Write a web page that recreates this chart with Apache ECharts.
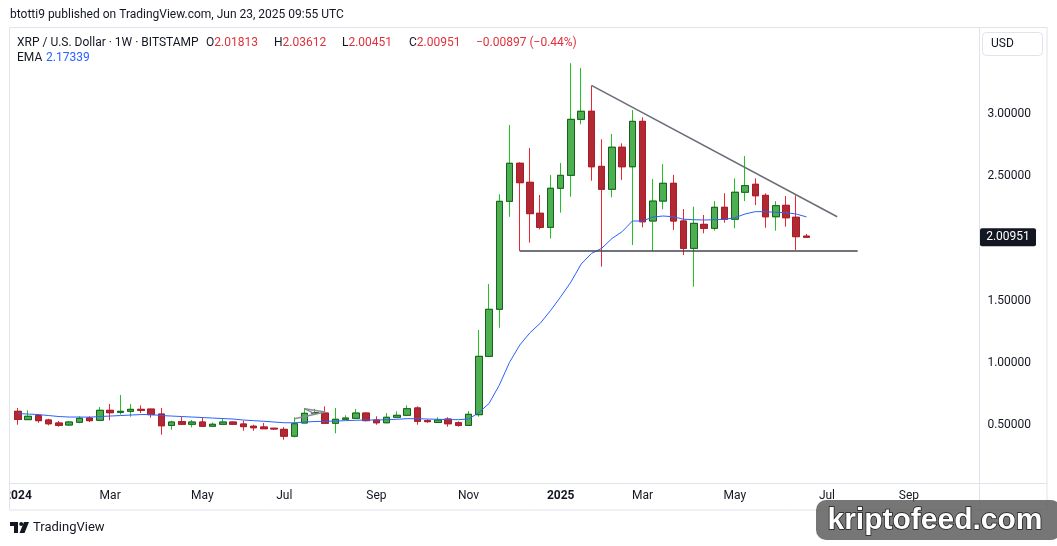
<!DOCTYPE html>
<html>
<head>
<meta charset="utf-8">
<script src="https://cdn.jsdelivr.net/npm/echarts@6/dist/echarts.min.js"></script>
<style>
  html, body { margin: 0; padding: 0; background: #ffffff; }
  #chart { width: 1057px; height: 546px; }
</style>
</head>
<body>
<div id="chart"></div>
<script>
// weekly bars, XRP/USD Bitstamp, from the week of 2024-01-01
const weeks = []
for (let i = 0; i < 94; i++) {
  weeks.push(new Date(Date.UTC(2024, 0, 1 + 7 * i)).toISOString().slice(0, 10))
}

const open = [
  0.610, 0.543, 0.575, 0.540, 0.516, 0.500, 0.522, 0.556, 0.538, 0.618,
  0.602, 0.610, 0.626, 0.628, 0.588, 0.497, 0.527, 0.506, 0.524, 0.490,
  0.506, 0.524, 0.508, 0.490, 0.484, 0.474, 0.465, 0.410, 0.516, 0.594,
  0.596, 0.514, 0.546, 0.554, 0.596, 0.540, 0.518, 0.562, 0.578, 0.637,
  0.535, 0.520, 0.548, 0.518, 0.497, 0.583, 1.052, 1.430, 2.298, 2.604,
  2.451, 2.202, 2.089, 2.403, 2.507, 2.957, 3.022, 2.579, 2.395, 2.733,
  2.576, 2.941, 2.140, 2.300, 2.443, 2.140, 1.920, 2.113, 2.081, 2.250,
  2.154, 2.371, 2.435, 2.346, 2.174, 2.266, 2.170, 2.01813
]
const high = [
  0.637, 0.618, 0.588, 0.550, 0.532, 0.532, 0.570, 0.570, 0.645, 0.669,
  0.741, 0.669, 0.658, 0.630, 0.637, 0.535, 0.564, 0.540, 0.562, 0.520,
  0.556, 0.528, 0.535, 0.502, 0.516, 0.474, 0.484, 0.562, 0.637, 0.630,
  0.650, 0.637, 0.578, 0.629, 0.600, 0.570, 0.596, 0.610, 0.658, 0.650,
  0.546, 0.562, 0.562, 0.530, 0.612, 1.264, 1.633, 2.355, 2.912, 2.612,
  2.727, 2.349, 2.510, 2.606, 3.408, 3.370, 3.225, 2.797, 2.839, 2.764,
  3.032, 2.973, 2.477, 2.597, 2.510, 2.236, 2.255, 2.188, 2.300, 2.363,
  2.483, 2.662, 2.483, 2.362, 2.300, 2.341, 2.346, 2.03612
]
const low = [
  0.502, 0.540, 0.518, 0.497, 0.486, 0.494, 0.514, 0.524, 0.530, 0.538,
  0.583, 0.567, 0.596, 0.559, 0.422, 0.462, 0.506, 0.481, 0.490, 0.487,
  0.504, 0.500, 0.454, 0.454, 0.470, 0.460, 0.382, 0.400, 0.516, 0.585,
  0.514, 0.433, 0.546, 0.550, 0.530, 0.502, 0.515, 0.555, 0.572, 0.502,
  0.518, 0.520, 0.486, 0.486, 0.494, 0.567, 1.050, 1.282, 2.174, 1.899,
  1.966, 2.073, 1.998, 2.207, 2.335, 2.917, 2.464, 1.773, 2.330, 2.470,
  1.947, 2.089, 1.899, 2.234, 2.068, 1.866, 1.612, 2.041, 2.062, 2.126,
  2.081, 2.300, 2.268, 2.086, 2.062, 2.094, 1.907, 2.00451
]
const close = [
  0.545, 0.570, 0.535, 0.510, 0.497, 0.524, 0.554, 0.535, 0.618, 0.599,
  0.610, 0.626, 0.618, 0.583, 0.494, 0.524, 0.506, 0.524, 0.490, 0.506,
  0.524, 0.506, 0.487, 0.478, 0.470, 0.468, 0.410, 0.510, 0.594, 0.600,
  0.514, 0.546, 0.556, 0.596, 0.535, 0.518, 0.562, 0.578, 0.631, 0.530,
  0.527, 0.540, 0.510, 0.497, 0.586, 1.052, 1.430, 2.298, 2.604, 2.448,
  2.199, 2.089, 2.403, 2.507, 2.957, 3.022, 2.576, 2.395, 2.733, 2.576,
  2.941, 2.134, 2.300, 2.443, 2.140, 1.920, 2.121, 2.081, 2.250, 2.154,
  2.371, 2.424, 2.343, 2.174, 2.263, 2.166, 2.014, 2.00951
]
const ema = [
  0.592, 0.588, 0.584, 0.576, 0.568, 0.564, 0.564, 0.563, 0.568, 0.572,
  0.576, 0.580, 0.584, 0.584, 0.576, 0.572, 0.568, 0.564, 0.560, 0.556,
  0.552, 0.548, 0.540, 0.535, 0.530, 0.524, 0.518, 0.518, 0.524, 0.528,
  0.530, 0.532, 0.535, 0.538, 0.540, 0.540, 0.543, 0.546, 0.551, 0.551,
  0.548, 0.546, 0.543, 0.543, 0.548, 0.600, 0.673, 0.820, 1.004, 1.143,
  1.242, 1.318, 1.419, 1.531, 1.650, 1.794, 1.879, 1.920, 1.999, 2.054,
  2.140, 2.140, 2.172, 2.180, 2.174, 2.154, 2.150, 2.148, 2.150, 2.154,
  2.166, 2.196, 2.215, 2.215, 2.210, 2.207, 2.196, 2.173
]

// drawn lines: [bar index, price]
const resistance = [[56, 3.23], [80, 2.174]]
const support = [[49, 1.899], [82, 1.899]]
const sketch = [
  [[27, 0.551], [30, 0.605]],
  [[28, 0.630], [30, 0.605]],
  [[28, 0.630], [29, 0.590]]
]

const tickIndex = [0, 9, 18, 26, 35, 44, 53, 61, 70, 79, 87]
const tickText = ['2024', 'Mar', 'May', 'Jul', 'Sep', 'Nov', '2025', 'Mar', 'May', 'Jul', 'Sep']
const priceTicks = [0.5, 1, 1.5, 2.5, 3]

const FONT = 'Roboto, "Noto Sans", sans-serif'
const TXT = '#131722'
const DOWN_TXT = '#e0313c'

const chart = echarts.init(document.getElementById('chart'))

const seg = (pts, color) => pts.map(p => ({ coord: p, lineStyle: { color } }))

chart.setOption({
  animation: false,
  backgroundColor: '#ffffff',
  textStyle: { fontFamily: FONT },
  grid: { left: 12.88, top: 27, width: 962.56, height: 456 },
  xAxis: {
    type: 'category',
    data: weeks,
    boundaryGap: true,
    axisLine: { show: false },
    axisTick: { show: false },
    splitLine: { show: false },
    axisLabel: {
      interval: (idx) => tickIndex.includes(idx),
      formatter: (val, idx) => {
        const t = tickText[tickIndex.indexOf(idx)] || ''
        return /^\d{4}$/.test(t) ? `{y|${t}}` : t
      },
      color: TXT,
      fontSize: 12,
      margin: 7,
      rich: { y: { fontSize: 12, fontWeight: 'bold', color: TXT } },
    },
  },
  yAxis: {
    type: 'value',
    position: 'right',
    min: 0.0338,
    max: 3.6994,
    splitLine: { show: false },
    axisLine: { show: false },
    axisTick: { show: false },
    axisLabel: {
      customValues: priceTicks,
      formatter: (v) => v.toFixed(5),
      color: TXT,
      fontSize: 12,
      margin: 12,
    },
  },
  series: [
    {
      name: 'wicks',
      type: 'candlestick',
      barWidth: 7,
      data: open.map((o, i) => [o, close[i], low[i], high[i]]),
      itemStyle: {
        color: '#1fc21f', color0: '#ee2530',
        borderColor: '#1fc21f', borderColor0: '#ee2530', borderWidth: 1,
      },
      markLine: {
        silent: true,
        symbol: ['none', 'none'],
        label: { show: false },
        lineStyle: { type: 'solid', width: 1.5 },
        data: [
          seg(resistance, '#6a6d78'),
          seg(support, '#434651'),
          ...sketch.map(s => seg(s, '#8a8d96')),
        ],
      },
    },
    {
      name: 'bodies',
      type: 'candlestick',
      barWidth: 7,
      data: open.map((o, i) => [o, close[i], Math.min(o, close[i]), Math.max(o, close[i])]),
      itemStyle: {
        color: '#4caf50', color0: '#b22833',
        borderColor: '#1b5e20', borderColor0: '#a3202b', borderWidth: 1,
      },
    },
    {
      name: 'EMA',
      type: 'line',
      data: ema,
      showSymbol: false,
      lineStyle: { color: '#2962ff', width: 1 },
      z: 3,
    },
  ],
})

const lastY = chart.convertToPixel({ yAxisIndex: 0 }, close[close.length - 1])

chart.setOption({
  graphic: [
    // panel frame
    { type: 'rect', z: 50, silent: true, shape: { x: 9.5, y: 27.5, width: 1037.5, height: 482.5 },
      style: { fill: 'none', stroke: '#e0e3eb', lineWidth: 1 } },
    { type: 'line', z: 50, silent: true, shape: { x1: 9.5, y1: 483.5, x2: 1047, y2: 483.5 },
      style: { stroke: '#e0e3eb', lineWidth: 1 } },
    { type: 'line', z: 50, silent: true, shape: { x1: 979.5, y1: 27.5, x2: 979.5, y2: 510 },
      style: { stroke: '#e0e3eb', lineWidth: 1 } },
    // clip the year label at the left edge
    { type: 'rect', z: 60, silent: true, shape: { x: 0, y: 485, width: 9, height: 24 },
      style: { fill: '#ffffff' } },

    // header
    { type: 'text', x: 10, y: 15, style: { text: 'btotti9 published on TradingView.com, Jun 23, 2025 09:55 UTC',
      font: `12px ${FONT}`, fill: TXT, verticalAlign: 'middle' } },
    { type: 'text', x: 17, y: 42.5, style: { text: 'XRP / U.S. Dollar · 1W · BITSTAMP',
      font: `12px ${FONT}`, fill: TXT, verticalAlign: 'middle' } },
    ...[['O', '2.01813', 206], ['H', '2.03612', 274], ['L', '2.00451', 342], ['C', '2.00951', 409]].map(([k, v, x]) => ({
      type: 'text', x, y: 42.5,
      style: { text: `{k|${k}}{v|${v}}`, verticalAlign: 'middle',
        rich: { k: { font: `12px ${FONT}`, fill: TXT }, v: { font: `12px ${FONT}`, fill: DOWN_TXT } } },
    })),
    { type: 'text', x: 476, y: 42.5, style: { text: '\u22120.00897 (\u22120.44%)',
      font: `12px ${FONT}`, fill: DOWN_TXT, verticalAlign: 'middle' } },
    { type: 'text', x: 17, y: 57.5, style: { text: 'EMA', font: `12px ${FONT}`, fill: TXT, verticalAlign: 'middle' } },
    { type: 'text', x: 46, y: 57.5, style: { text: '2.17339', font: `12px ${FONT}`, fill: '#2962ff', verticalAlign: 'middle' } },

    // currency button
    { type: 'rect', z: 40, shape: { x: 982.5, y: 32.5, width: 60, height: 23, r: 4 },
      style: { fill: '#ffffff', stroke: '#e0e3eb', lineWidth: 1 } },
    { type: 'text', z: 41, x: 991, y: 44, style: { text: 'USD', font: `12px ${FONT}`, fill: TXT, verticalAlign: 'middle' } },

    // last price tag
    { type: 'rect', z: 40, shape: { x: 980, y: lastY - 9, width: 56, height: 18, r: 2 },
      style: { fill: '#131722' } },
    { type: 'text', z: 41, x: 1008, y: lastY, style: { text: close[close.length - 1].toFixed(5),
      font: `12px ${FONT}`, fill: '#ffffff', align: 'center', verticalAlign: 'middle' } },

    // TradingView footer
    { type: 'group', x: 10, y: 522, children: [
      { type: 'rect', shape: { x: 0, y: 0, width: 8, height: 4 }, style: { fill: TXT } },
      { type: 'rect', shape: { x: 4, y: 0, width: 4, height: 11 }, style: { fill: TXT } },
      { type: 'circle', shape: { cx: 11.2, cy: 2, r: 2 }, style: { fill: TXT } },
      { type: 'polygon', shape: { points: [[14, 0], [19, 0], [14.5, 11], [9.5, 11]] }, style: { fill: TXT } },
    ] },
    { type: 'text', x: 33, y: 528, style: { text: 'TradingView', font: `13px ${FONT}`, fill: TXT, verticalAlign: 'middle' } },

    // site watermark
    { type: 'rect', z: 80, shape: { x: 816, y: 500, width: 245, height: 40, r: 10 },
      style: { fill: 'rgba(95,95,95,0.86)' } },
    { type: 'text', z: 81, x: 935, y: 521, style: {
      text: 'kriptofeed.com', font: `bold 30px "Liberation Sans", Arial, sans-serif`,
      fill: '#ffffff', align: 'center', verticalAlign: 'middle',
      stroke: '#1a1a1a', lineWidth: 1.5,
      shadowColor: '#000000', shadowOffsetX: 2, shadowOffsetY: 2, shadowBlur: 0 } },
  ],
})
</script>
</body>
</html>
